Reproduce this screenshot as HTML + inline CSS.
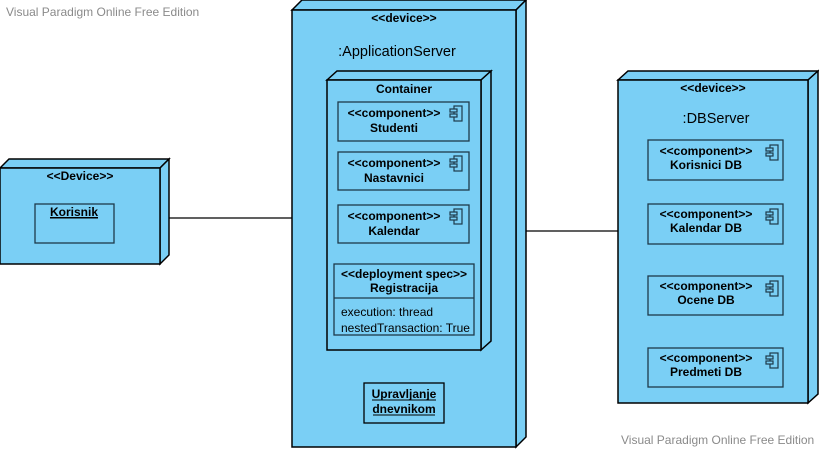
<!DOCTYPE html>
<html><head><meta charset="utf-8"><style>
html,body{margin:0;padding:0;background:#fff;}
svg{display:block;}
text{font-family:"Liberation Sans",sans-serif;fill:#000;}
.b{font-weight:bold;font-size:12px;}
.wm{fill:#8a8a8a;font-size:12px;}
</style></head><body>
<svg width="819" height="449" viewBox="0 0 819 449" xmlns="http://www.w3.org/2000/svg">
<defs>
<g id="ic"><rect x="4" y="0" width="8" height="15" fill="#7ACFF5" stroke="#1e3a4a" stroke-width="1.2"/><rect x="0" y="3" width="7" height="3" fill="#7ACFF5" stroke="#1e3a4a" stroke-width="1.2"/><rect x="0" y="8" width="7" height="3" fill="#7ACFF5" stroke="#1e3a4a" stroke-width="1.2"/></g>
</defs>
<text class="wm" x="6" y="16">Visual Paradigm Online Free Edition</text>
<text class="wm" x="621" y="444">Visual Paradigm Online Free Edition</text>

<line x1="160" y1="218" x2="292" y2="218" stroke="#000" stroke-width="1.3"/>
<line x1="517" y1="231" x2="618" y2="231" stroke="#000" stroke-width="1.3"/>

<!-- Device Korisnik -->
<g stroke="#000" stroke-width="1.5" fill="#7ACFF5">
<polygon points="0,168 9,159 169,159 160,168"/>
<polygon points="160,168 169,159 169,255 160,264"/>
<rect x="0" y="168" width="160" height="96"/>
<rect x="35" y="204" width="79" height="39" stroke="#1e3a4a" stroke-width="1.3"/>
</g>
<text class="b" x="80" y="180" text-anchor="middle">&lt;&lt;Device&gt;&gt;</text>
<text class="b" x="74" y="216" text-anchor="middle" text-decoration="underline">Korisnik</text>
<line x1="50" y1="218" x2="98" y2="218" stroke="#000" stroke-width="1"/>

<!-- App Server -->
<g stroke="#000" stroke-width="1.5" fill="#7ACFF5">
<polygon points="292,10 302,0 526,0 516,10"/>
<polygon points="516,10 526,0 526,437 516,447"/>
<rect x="292" y="10" width="224" height="437"/>
<polygon points="327,80 337,71 491,71 481,80"/>
<polygon points="481,80 491,71 491,341 481,350"/>
<rect x="327" y="80" width="154" height="270"/>
</g>
<text class="b" x="404" y="22" text-anchor="middle">&lt;&lt;device&gt;&gt;</text>
<text x="397" y="56" text-anchor="middle" font-size="14.5">:ApplicationServer</text>
<text class="b" x="404" y="93" text-anchor="middle">Container</text>

<g stroke="#1e3a4a" stroke-width="1.3" fill="#7ACFF5">
<rect x="338" y="102" width="131" height="39"/>
<rect x="338" y="152" width="131" height="38"/>
<rect x="338" y="205" width="131" height="38"/>
<rect x="334" y="264" width="140" height="71"/>
<line x1="334" y1="298" x2="474" y2="298"/>
<rect x="364" y="383" width="80" height="40" stroke="#000"/>
</g>
<use href="#ic" x="450" y="106"/>
<use href="#ic" x="450" y="156"/>
<use href="#ic" x="450" y="209"/>
<text class="b" x="394" y="117" text-anchor="middle">&lt;&lt;component&gt;&gt;</text>
<text class="b" x="394" y="132" text-anchor="middle">Studenti</text>
<text class="b" x="394" y="167" text-anchor="middle">&lt;&lt;component&gt;&gt;</text>
<text class="b" x="394" y="182" text-anchor="middle">Nastavnici</text>
<text class="b" x="394" y="220" text-anchor="middle">&lt;&lt;component&gt;&gt;</text>
<text class="b" x="394" y="235" text-anchor="middle">Kalendar</text>
<text class="b" x="404" y="278" text-anchor="middle">&lt;&lt;deployment spec&gt;&gt;</text>
<text class="b" x="404" y="292" text-anchor="middle">Registracija</text>
<text x="341" y="316" font-size="12">execution: thread</text>
<text x="341" y="332" font-size="12">nestedTransaction: True</text>
<text class="b" x="404" y="398" text-anchor="middle">Upravljanje</text>
<text class="b" x="404" y="413" text-anchor="middle">dnevnikom</text>
<line x1="372" y1="400" x2="436" y2="400" stroke="#000" stroke-width="1"/>
<line x1="373" y1="415" x2="435" y2="415" stroke="#000" stroke-width="1"/>

<!-- DB Server -->
<g stroke="#000" stroke-width="1.5" fill="#7ACFF5">
<polygon points="618,80 628,71 818,71 808,80"/>
<polygon points="808,80 818,71 818,394 808,403"/>
<rect x="618" y="80" width="190" height="323"/>
</g>
<text class="b" x="713" y="92" text-anchor="middle">&lt;&lt;device&gt;&gt;</text>
<text x="716" y="123" text-anchor="middle" font-size="14.5">:DBServer</text>
<g stroke="#1e3a4a" stroke-width="1.3" fill="#7ACFF5">
<rect x="648" y="140" width="135" height="40"/>
<rect x="648" y="204" width="135" height="40"/>
<rect x="648" y="276" width="135" height="39"/>
<rect x="648" y="348" width="135" height="39"/>
</g>
<use href="#ic" x="766" y="145"/>
<use href="#ic" x="766" y="209"/>
<use href="#ic" x="766" y="281"/>
<use href="#ic" x="766" y="353"/>
<text class="b" x="706" y="155" text-anchor="middle">&lt;&lt;component&gt;&gt;</text>
<text class="b" x="706" y="169" text-anchor="middle">Korisnici DB</text>
<text class="b" x="706" y="218" text-anchor="middle">&lt;&lt;component&gt;&gt;</text>
<text class="b" x="706" y="232" text-anchor="middle">Kalendar DB</text>
<text class="b" x="706" y="290" text-anchor="middle">&lt;&lt;component&gt;&gt;</text>
<text class="b" x="706" y="304" text-anchor="middle">Ocene DB</text>
<text class="b" x="706" y="362" text-anchor="middle">&lt;&lt;component&gt;&gt;</text>
<text class="b" x="706" y="376" text-anchor="middle">Predmeti DB</text>
</svg>
</body></html>
